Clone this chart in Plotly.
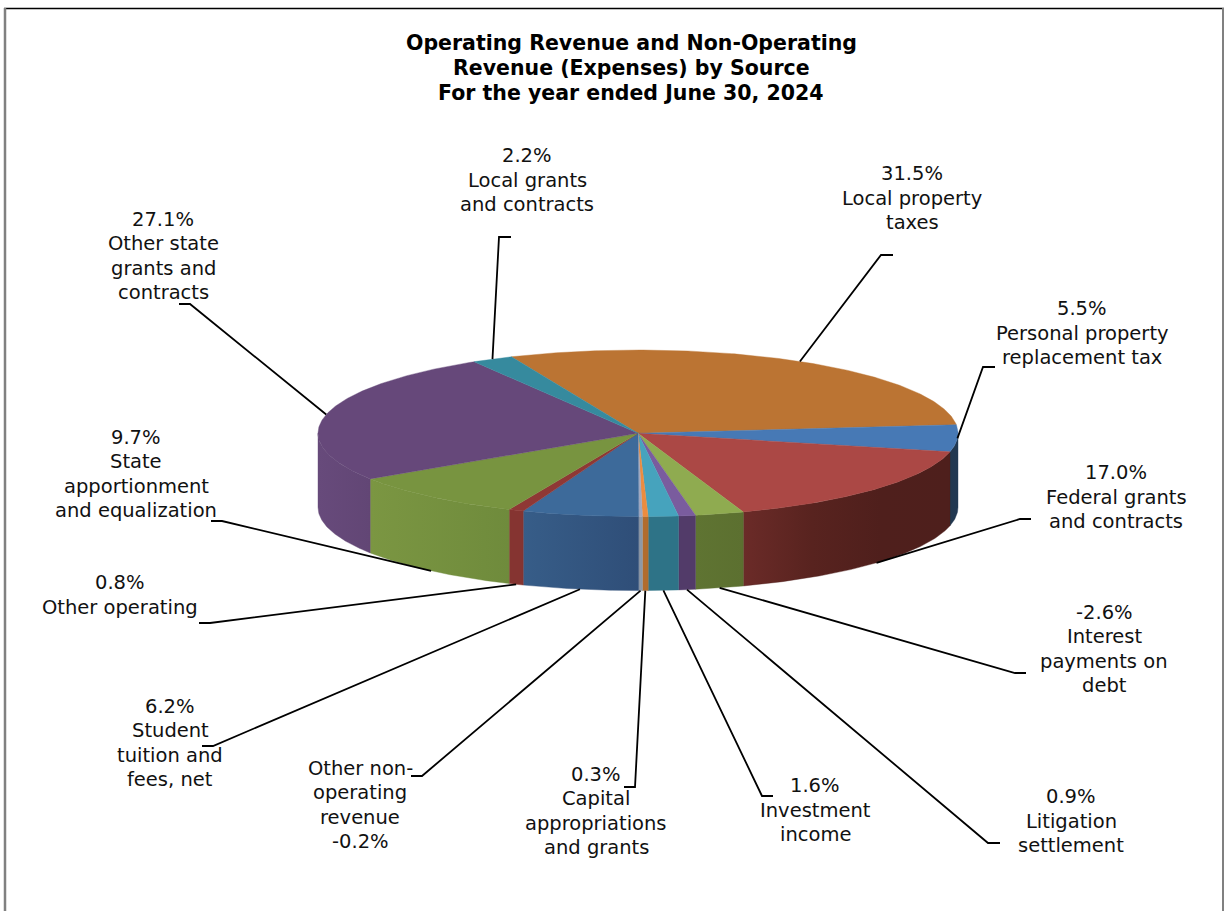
import numpy as np
import plotly.graph_objects as go

# Share of revenue by source, in drawing order (clockwise from the first slice)
categories = [
    "Local property<br>taxes",
    "Personal property<br>replacement tax",
    "Federal grants<br>and contracts",
    "Interest<br>payments on<br>debt",
    "Litigation<br>settlement",
    "Investment<br>income",
    "Capital<br>appropriations<br>and grants",
    "Other non-<br>operating<br>revenue",
    "Student<br>tuition and<br>fees, net",
    "Other operating",
    "State<br>apportionment<br>and equalization",
    "Other state<br>grants and<br>contracts",
    "Local grants<br>and contracts",
]
percent = [31.5, 5.5, 17.0, -2.6, 0.9, 1.6, 0.3, -0.2, 6.2, 0.8, 9.7, 27.1, 2.2]
percent_below_name = {"Other non-<br>operating<br>revenue"}

title_lines = [
    "Operating Revenue and Non-Operating",
    "Revenue (Expenses) by Source",
    "For the year ended June 30, 2024",
]

# Slice colours: top face, then the side wall as a left-to-right gradient
top_colors = ["#BB7433", "#4779B5", "#AB4845", "#8FAB50", "#7A5C9E", "#46A3BD", "#EC8C3F",
              "#A0A8C0", "#3D6A9A", "#8F3835", "#789440", "#66487A", "#368A9E"]
side_colors = [
    ["#BB7433", "#BB7433"],
    ["#22384F", "#213852"],
    ["#6B2B28", "#58231F", "#4F1F1C", "#4E1F1C"],
    ["#5F7432", "#5C7030"],
    ["#523B69", "#523B69"],
    ["#2E7387", "#2E7387"],
    ["#B06C2E", "#B06C2E"],
    ["#8E99A6", "#8E99A6"],
    ["#375D88", "#2F4E78"],
    ["#853431", "#853431"],
    ["#7B9642", "#6F8B3C"],
    ["#674A7B", "#624675"],
    ["#368A9E", "#368A9E"],
]

# Pie geometry in page pixels
CX, CY, RX, RY, DEPTH = 638.0, 433.3, 320.0, 83.3, 74.0
FIRST_ANGLE = -23.3

# Leader elbows and label block centres, one per slice
leader_knee = [(881, 255), (983, 367), (1020, 519), (1015, 673), (988, 843), (762, 796), (635, 787),
               (422, 776), (213, 746), (210, 623), (222, 521), (190, 304), (499, 237)]
leader_end = [(893, 255), (995, 367), (1031, 519), (1026, 673), (1000, 843), (773, 796), (624, 787),
              (411, 776), (202, 746), (199, 623), (211, 521), (179, 304), (511, 237)]
label_center = [(912, 198), (1082, 333), (1116, 497), (1104, 649), (1071, 821), (815, 810), (596, 811),
                (360, 805), (170, 743), (120, 595), (136, 474), (163, 256), (527, 180)]

FONT = "DejaVu Sans, Verdana, sans-serif"
LABEL_SIZE = 19.5
LABEL_PITCH = 24.3
TITLE_SIZE = 20.5
TITLE_PITCH = 25.0


def rim(angle_deg, drop=0.0):
    """Point on the pie rim; angles run clockwise from twelve o'clock."""
    a = np.radians(angle_deg)
    return CX + RX * np.sin(a), CY - RY * np.cos(a) + drop


def text_lines(lines, x, y_mid, pitch, size, color, bold=False):
    """One annotation per line so the line pitch stays independent of the font size."""
    out = []
    for i, line in enumerate(lines):
        out.append(dict(x=x, y=y_mid + (i - (len(lines) - 1) / 2) * pitch, xref="x", yref="y",
                        text=f"<b>{line}</b>" if bold else line, showarrow=False,
                        xanchor="center", yanchor="middle", align="center",
                        font=dict(family=FONT, size=size, color=color)))
    return out


# Excel-style pies size slices on absolute values
sizes = np.abs(np.array(percent))
sweeps = sizes / sizes.sum() * 360.0
starts = FIRST_ANGLE + np.concatenate([[0.0], np.cumsum(sweeps)[:-1]])
ends = starts + sweeps

fig = go.Figure()

# Side walls: only the front half of the rim (90 to 270 degrees) faces the viewer
for start, end, colors, name in zip(starts, ends, side_colors, categories):
    lo, hi = max(start, 90.0), min(end, 270.0)
    if hi <= lo:
        continue
    arc = np.linspace(lo, hi, max(4, int((hi - lo) * 2)))
    xt, yt = rim(arc)
    xb, yb = rim(arc[::-1], DEPTH)
    xs = np.concatenate([xt, xb, xt[:1]])
    ys = np.concatenate([yt, yb, yt[:1]])
    stops = np.linspace(0, 1, len(colors))
    fig.add_trace(go.Scatter(
        x=xs, y=ys, mode="lines", fill="toself",
        line=dict(width=0.4, color=colors[-1]),
        fillgradient=dict(type="horizontal", colorscale=[[float(s), c] for s, c in zip(stops, colors)]),
        hoverinfo="skip", showlegend=False, name=name.replace("<br>", " "),
    ))

# Top faces
for start, end, color, name, value in zip(starts, ends, top_colors, categories, percent):
    arc = np.linspace(start, end, max(3, int((end - start) * 2)))
    xa, ya = rim(arc)
    fig.add_trace(go.Scatter(
        x=np.concatenate([[CX], xa, [CX]]), y=np.concatenate([[CY], ya, [CY]]),
        mode="lines", fill="toself", fillcolor=color,
        line=dict(width=0.4, color=color),
        showlegend=False, name=name.replace("<br>", " "), text=f"{value:.1f}%", hoverinfo="name+text",
    ))

# Leader lines leave from each slice's mid-angle, on the lower rim when it faces front
lx, ly = [], []
for start, end, knee, tail in zip(starts, ends, leader_knee, leader_end):
    mid = (start + end) / 2
    px, py = rim(mid, DEPTH if 110 < mid < 250 else 0.0)
    lx += [px, knee[0], tail[0], None]
    ly += [py, knee[1], tail[1], None]
fig.add_trace(go.Scatter(x=lx, y=ly, mode="lines", line=dict(color="#000000", width=1.8),
                         hoverinfo="skip", showlegend=False))

# Slice labels
annotations = []
for name, value, (tx, ty) in zip(categories, percent, label_center):
    pct = f"{value:.1f}%"
    parts = name.split("<br>")
    lines = parts + [pct] if name in percent_below_name else [pct] + parts
    annotations += text_lines(lines, tx, ty, LABEL_PITCH, LABEL_SIZE, "#111111")

# Title
annotations += text_lines(title_lines, 631, 68, TITLE_PITCH, TITLE_SIZE, "#000000", bold=True)

# Chart-area border: black along the top, grey down both sides
frame = [
    dict(type="line", x0=4, x1=1224, y0=8.5, y1=8.5, line=dict(color="#000000", width=1.5)),
    dict(type="line", x0=5, x1=5, y0=8, y1=911, line=dict(color="#808080", width=2.5)),
    dict(type="line", x0=1223, x1=1223, y0=8, y1=911, line=dict(color="#808080", width=2)),
]

fig.update_layout(
    width=1225, height=911, margin=dict(l=0, r=0, t=0, b=0),
    paper_bgcolor="#FFFFFF", plot_bgcolor="#FFFFFF",
    xaxis=dict(range=[0, 1225], visible=False, fixedrange=True),
    yaxis=dict(range=[911, 0], visible=False, fixedrange=True),
    annotations=annotations, shapes=frame, showlegend=False,
)

fig.write_html("out.html")
